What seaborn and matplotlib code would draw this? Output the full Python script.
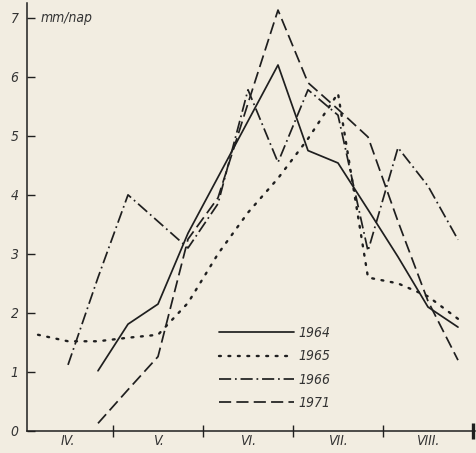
import numpy as np
import pandas as pd
import matplotlib
matplotlib.use("Agg")
import matplotlib.pyplot as plt
import seaborn as sns
from matplotlib.lines import Line2D

# ten-day periods (decades) from April to August, index 0 = IV.1
decades = list(range(15))
month_labels = ["IV.", "V.", "VI.", "VII.", "VIII."]
years = ["1964", "1965", "1966", "1971"]

s1964 = [np.nan, np.nan, 1.02, 1.81, 2.15, 3.35, 4.30, 5.25, 6.20, 4.75, 4.54, 3.75, 2.95, 2.10, 1.76]
s1965 = [1.63, 1.52, 1.52, 1.58, 1.63, 2.17, 3.00, 3.70, 4.28, 4.95, 5.72, 2.60, 2.50, 2.28, 1.90]
s1966 = [np.nan, 1.12, 2.60, 4.00, 3.55, 3.10, 3.85, 5.78, 4.55, 5.78, 5.35, 3.05, 4.80, 4.15, 3.24]
s1971 = [np.nan, np.nan, 0.13, 0.70, 1.26, 3.25, 3.95, 5.55, 7.13, 5.90, 5.45, 4.98, 3.55, 2.20, 1.20]

series = {"1964": s1964, "1965": s1965, "1966": s1966, "1971": s1971}

sns.set_theme(style="white")
plt.rcParams["font.family"] = ["DejaVu Sans"]

bg = "#f2ede1"
ink = "#1f1f1f"
txt = "#333333"
tfont = dict(style="italic", size=10, stretch="condensed")

fig = plt.figure(figsize=(4.77, 4.53), dpi=100, facecolor=bg)
W, H = 477, 453
ax = fig.add_axes([27 / W, 1 - 431 / H, (475 - 27) / W, (431 - 3) / H])
ax.set_facecolor(bg)

styles = {
    "1964": dict(linestyle="-"),
    "1965": dict(linestyle=(0, (0.8, 3.2)), dash_capstyle="round", linewidth=1.7),
    "1966": dict(linestyle=(0, (7, 2.2, 1, 2.2))),
    "1971": dict(linestyle=(0, (7, 3))),
}

for yr in years:
    df = pd.DataFrame({"decade": decades, "value": series[yr]}).dropna()
    kw = dict(color=ink, linewidth=1.25)
    kw.update(styles[yr])
    sns.lineplot(data=df, x="decade", y="value", ax=ax, label=yr, **kw)

ax.set_xlim(-0.367, 14.567)
ax.set_ylim(0, 7.25)

for s in ["top", "right"]:
    ax.spines[s].set_visible(False)
for s in ["left", "bottom"]:
    ax.spines[s].set_color(ink)
    ax.spines[s].set_linewidth(1.1)

ax.set_yticks(range(8))
ax.set_yticklabels([str(i) for i in range(8)], fontproperties=None, color=txt, **{"fontstyle": "italic", "fontsize": 10, "fontstretch": "condensed"})
ax.tick_params(axis="y", direction="in", length=6, width=1, color=ink, pad=6, left=True)

ax.set_xticks([2.5, 5.5, 8.5, 11.5])
ax.set_xticklabels([])
ax.tick_params(axis="x", which="major", direction="inout", length=9, width=1, color=ink, bottom=True)
ax.set_xticks([1, 4, 7, 10, 13], minor=True)
ax.set_xticklabels(month_labels, minor=True, color=txt, fontstyle="italic", fontsize=10, fontstretch="condensed")
ax.tick_params(axis="x", which="minor", length=0, pad=2)
ax.plot([14.5, 14.5], [-0.14, 0.14], color=ink, lw=2.4, clip_on=False, solid_capstyle="butt")

ax.set_xlabel("")
ax.set_ylabel("")
ax.text(0.07, 7.0, "mm/nap", color=txt, va="center", ha="left", fontstyle="italic", fontsize=10, fontstretch="condensed")

handles = [Line2D([], [], color=ink, linewidth=1.25 if yr != "1965" else 1.7,
                  **{k: v for k, v in styles[yr].items() if k != "linewidth"}) for yr in years]
leg = ax.legend(handles, years, loc="upper left", bbox_to_anchor=(219 / W, 1 - 326 / H),
                bbox_transform=fig.transFigure, frameon=False, handlelength=5.4,
                handletextpad=0.35, labelspacing=0.68, borderpad=0, borderaxespad=0,
                prop=tfont)
for t in leg.get_texts():
    t.set_color(txt)

fig.savefig("out.png", dpi=100, facecolor=bg)
